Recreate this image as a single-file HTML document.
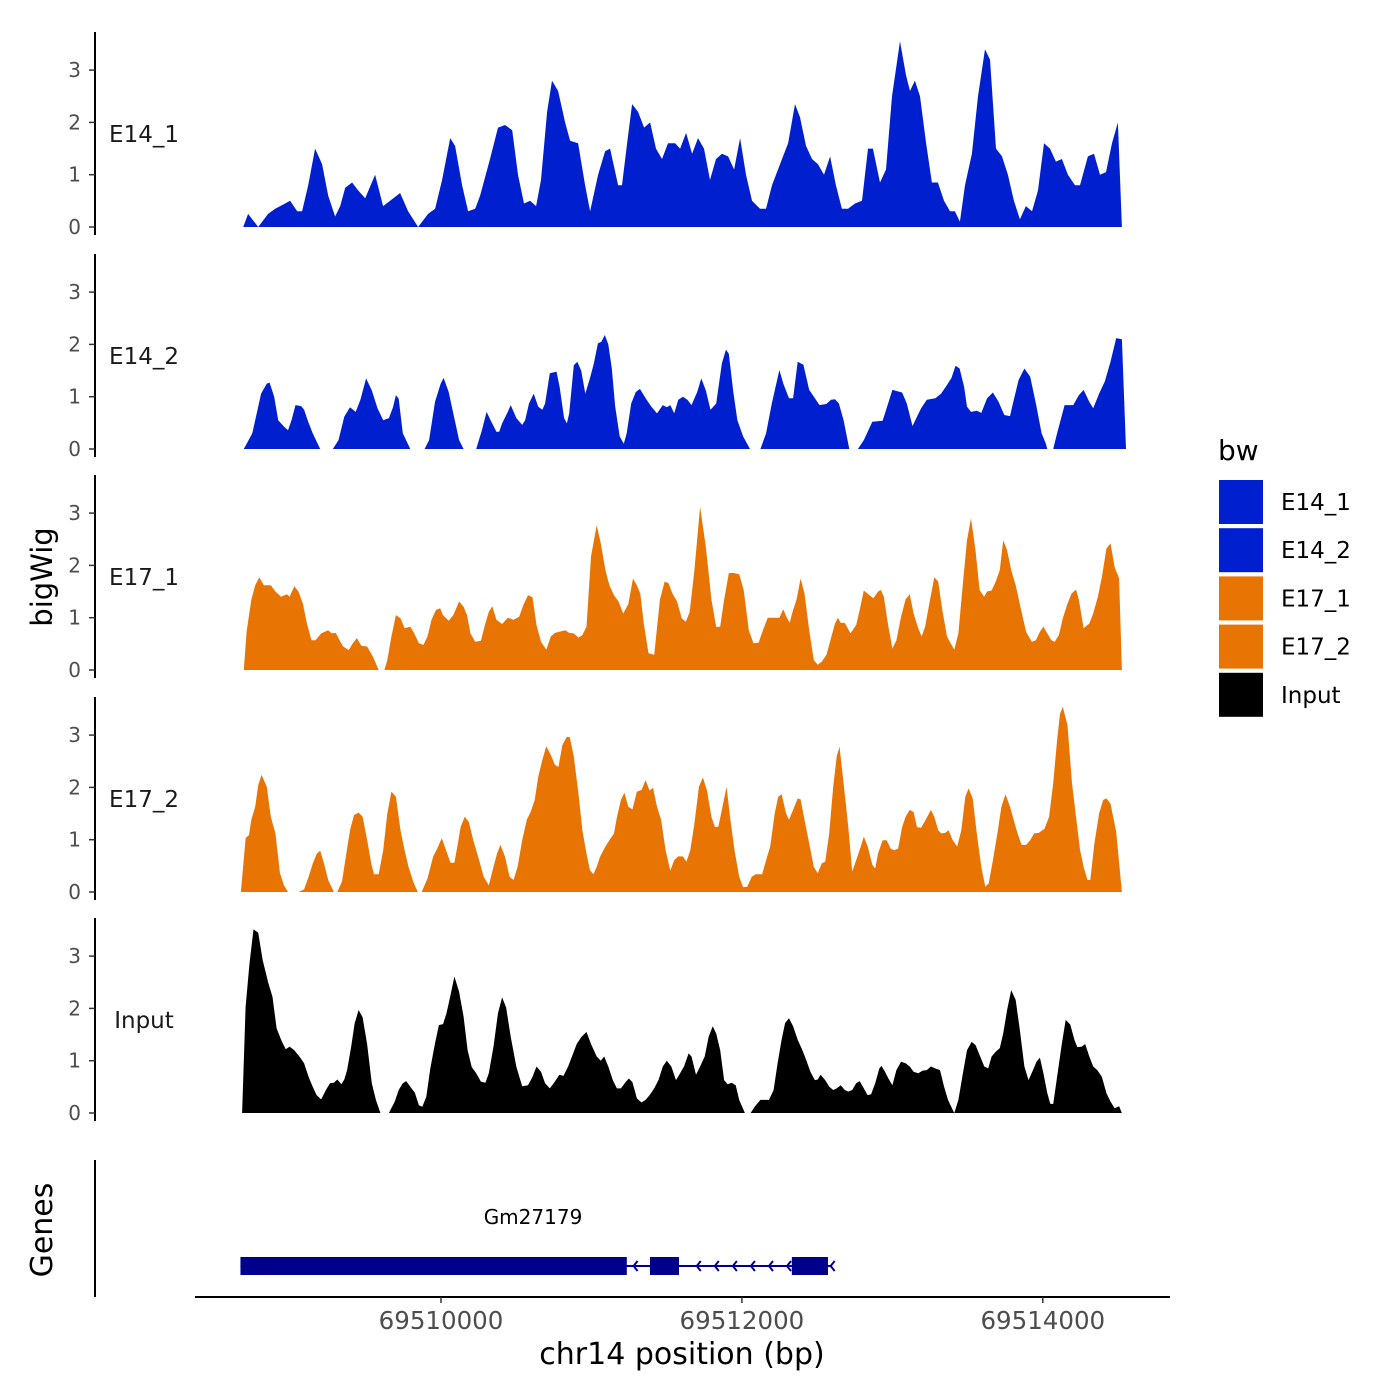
<!DOCTYPE html>
<html><head><meta charset="utf-8">
<style>
html,body{margin:0;padding:0;background:#fff;}
svg{display:block;font-family:"DejaVu Sans","Liberation Sans",sans-serif;}
</style></head>
<body>
<svg id="chart" width="1400" height="1400" viewBox="0 0 1400 1400"></svg>
<script>
const regionStart = 69508685;
const xTicks = [69510000, 69512000, 69514000];
const yTicks = [0, 1, 2, 3];
const trackNames = ["E14_1", "E14_2", "E17_1", "E17_2", "Input"];
const trackColors = ["#0020D0", "#0020D0", "#E87404", "#E87404", "#000000"];

const e14_1Pos = [0,33,100,166,213,279,312,359,392,432,478,525,565,611,645,678,724,764,811,877,930,977,1043,1096,1163,1229,1276,1322,1376,1409,1455,1495,1542,1575,1641,1694,1741,1788,1827,1867,1907,1947,1980,2020,2053,2093,2140,2173,2226,2273,2306,2359,2406,2439,2492,2518,2552,2585,2625,2665,2705,2744,2784,2824,2871,2904,2944,2984,3023,3063,3103,3143,3183,3223,3263,3303,3342,3382,3435,3475,3515,3568,3622,3668,3701,3741,3781,3821,3861,3901,3940,3980,4020,4067,4113,4153,4186,4233,4273,4313,4366,4406,4432,4465,4499,4539,4578,4618,4658,4698,4731,4764,4798,4844,4884,4931,4964,5004,5044,5083,5123,5163,5203,5243,5283,5323,5363,5402,5442,5482,5529,5562,5615,5655,5695,5735,5775,5814,5841];
const e14_1Val = [0,0.25,0,0.25,0.35,0.45,0.5,0.3,0.3,0.8,1.5,1.2,0.6,0.2,0.4,0.75,0.85,0.7,0.55,1.0,0.4,0.5,0.65,0.3,0,0.25,0.35,0.9,1.7,1.55,0.8,0.3,0.35,0.6,1.3,1.9,1.95,1.85,1.0,0.45,0.5,0.4,0.9,2.2,2.8,2.6,2.0,1.65,1.6,0.8,0.3,1.0,1.45,1.5,0.8,0.8,1.6,2.35,2.2,1.9,2.0,1.5,1.3,1.6,1.6,1.5,1.8,1.4,1.7,1.5,0.9,1.3,1.4,1.35,1.1,1.7,1.0,0.5,0.35,0.35,0.8,1.2,1.6,2.35,2.1,1.55,1.3,1.2,1.0,1.35,0.8,0.35,0.35,0.45,0.5,1.5,1.5,0.85,1.1,2.5,3.55,2.9,2.6,2.8,2.5,1.6,0.85,0.85,0.5,0.3,0.3,0.1,0.8,1.4,2.5,3.4,3.2,1.5,1.35,1.0,0.5,0.15,0.4,0.3,0.7,1.6,1.5,1.25,1.3,1.0,0.8,0.8,1.35,1.4,1.0,1.05,1.6,2.0,0];

const e14_2Pos = [4,61,119,157,176,206,233,271,298,321,348,386,405,432,462,512,596,634,672,710,748,779,817,855,893,931,969,996,1015,1034,1061,1111,1206,1236,1275,1313,1332,1366,1397,1435,1465,1549,1587,1618,1645,1683,1702,1721,1759,1778,1816,1855,1874,1900,1931,1961,1988,2007,2038,2083,2103,2133,2152,2167,2198,2221,2247,2274,2305,2331,2358,2381,2404,2427,2450,2473,2503,2530,2549,2579,2610,2637,2675,2713,2751,2789,2816,2839,2865,2892,2923,2953,2980,3018,3045,3075,3106,3144,3182,3209,3228,3258,3285,3323,3369,3438,3476,3514,3564,3590,3628,3655,3686,3724,3762,3800,3831,3876,3907,3934,3960,3991,4029,4086,4125,4182,4250,4277,4315,4380,4411,4449,4506,4544,4601,4639,4677,4708,4735,4762,4792,4811,4838,4876,4906,4945,4983,5021,5059,5097,5116,5154,5193,5231,5269,5307,5334,5345,5384,5410,5460,5517,5555,5586,5624,5650,5689,5727,5765,5803,5841,5868];
const e14_2Val = [0,0.30,1.06,1.25,1.27,1.0,0.55,0.43,0.36,0.55,0.84,0.82,0.75,0.52,0.30,0,0,0.17,0.62,0.80,0.71,0.94,1.35,1.12,0.78,0.55,0.59,0.80,1.03,0.96,0.30,0,0,0.17,0.90,1.25,1.36,1.09,0.68,0.17,0,0,0.36,0.71,0.55,0.33,0.33,0.49,0.71,0.84,0.59,0.46,0.55,0.87,1.06,0.81,0.75,0.87,1.45,1.48,1.19,0.59,0.49,0.68,1.60,1.67,1.5,1.06,1.35,1.64,2.02,2.05,2.18,2.0,1.54,0.81,0.24,0.10,0.30,0.87,1.09,1.15,0.97,0.81,0.68,0.84,0.80,0.84,0.68,0.94,1.0,0.94,0.84,1.09,1.35,1.12,0.75,0.87,1.64,1.90,1.82,1.09,0.55,0.24,0,0,0.30,0.87,1.51,1.25,0.97,0.97,1.67,1.61,1.13,0.97,0.84,0.86,0.94,0.95,0.87,0.55,0,0,0.17,0.52,0.54,0.78,1.13,1.08,0.87,0.44,0.78,0.94,0.97,1.06,1.22,1.36,1.59,1.54,1.19,0.81,0.71,0.73,0.69,0.97,1.08,0.90,0.65,0.63,0.87,1.32,1.54,1.38,0.87,0.30,0.11,0,0,0.30,0.84,0.84,1.03,1.13,0.90,0.78,1.06,1.29,1.67,2.12,2.10,0];

const e17_1Pos = [4,23,54,80,107,138,184,214,252,290,309,340,367,397,424,454,481,519,565,588,615,641,664,702,729,756,786,824,863,901,939,958,985,1015,1046,1073,1111,1137,1168,1198,1225,1252,1282,1309,1328,1366,1397,1435,1465,1488,1511,1542,1580,1607,1633,1656,1683,1721,1759,1797,1835,1862,1893,1923,1950,1980,2015,2045,2072,2102,2141,2167,2198,2228,2255,2282,2312,2350,2377,2408,2434,2465,2495,2526,2560,2591,2617,2640,2663,2694,2732,2770,2801,2827,2854,2884,2915,2942,2968,2999,3037,3075,3113,3144,3171,3197,3228,3251,3297,3327,3361,3392,3426,3457,3487,3514,3564,3590,3609,3632,3655,3678,3705,3731,3762,3793,3819,3846,3877,3903,3934,3953,3972,3999,4037,4075,4098,4125,4163,4189,4220,4239,4258,4289,4315,4342,4373,4403,4430,4456,4487,4510,4533,4563,4594,4620,4647,4678,4708,4727,4754,4784,4811,4838,4868,4895,4925,4945,4975,5002,5029,5052,5078,5105,5135,5166,5204,5242,5269,5296,5319,5345,5372,5395,5422,5448,5479,5506,5536,5555,5586,5624,5650,5681,5708,5738,5765,5792,5822,5841];
const e17_1Val = [0,0.73,1.34,1.62,1.77,1.62,1.62,1.5,1.4,1.45,1.4,1.6,1.5,1.27,0.89,0.57,0.57,0.70,0.76,0.70,0.71,0.57,0.45,0.38,0.51,0.61,0.46,0.45,0.25,0,0,0.19,0.64,1.05,0.99,0.80,0.83,0.70,0.51,0.48,0.64,0.96,1.15,1.18,1.05,0.94,1.05,1.31,1.21,1.05,0.70,0.54,0.56,0.86,1.11,1.22,0.96,0.88,1.0,0.96,1.02,1.24,1.43,1.39,0.86,0.54,0.39,0.64,0.71,0.73,0.76,0.71,0.70,0.62,0.67,0.83,2.17,2.77,2.42,1.91,1.62,1.43,1.31,1.08,1.26,1.75,1.62,1.46,0.89,0.32,0.29,1.34,1.69,1.66,1.46,1.31,0.99,0.92,1.11,1.91,3.12,2.36,1.34,0.82,0.83,1.34,1.85,1.86,1.83,1.53,0.76,0.51,0.52,0.78,1.0,1.0,1.0,1.16,1.03,0.90,1.15,1.34,1.75,1.46,0.76,0.19,0.1,0.16,0.29,0.57,0.89,1.0,0.90,0.90,0.70,0.86,1.15,1.52,1.43,1.37,1.50,1.53,1.40,0.83,0.41,0.57,1.02,1.35,1.45,1.08,0.80,0.64,0.83,1.31,1.77,1.69,1.15,0.64,0.48,0.39,0.70,1.66,2.48,2.90,2.29,1.53,1.40,1.50,1.52,1.69,1.91,2.48,2.29,1.91,1.62,1.21,0.73,0.54,0.57,0.73,0.83,0.70,0.57,0.54,0.67,0.99,1.27,1.46,1.54,1.34,0.80,0.89,1.08,1.40,1.78,2.32,2.42,1.97,1.75,0];

const e17_2Pos = [-15,16,39,54,80,100,122,157,184,214,245,271,298,367,405,435,462,489,512,538,565,603,626,657,683,710,737,767,794,824,851,870,901,931,958,985,1015,1046,1073,1099,1130,1160,1187,1225,1263,1290,1320,1351,1378,1404,1427,1446,1473,1500,1530,1568,1599,1633,1664,1687,1710,1740,1771,1797,1824,1855,1885,1912,1938,1961,1988,2015,2045,2072,2095,2122,2152,2171,2198,2228,2255,2282,2305,2328,2350,2373,2408,2434,2465,2484,2511,2534,2560,2587,2617,2648,2675,2701,2724,2751,2778,2808,2839,2865,2892,2923,2946,2972,2999,3029,3056,3083,3113,3136,3159,3190,3213,3236,3266,3297,3323,3350,3381,3407,3449,3476,3503,3533,3556,3579,3609,3628,3655,3686,3705,3731,3762,3793,3819,3846,3869,3895,3922,3945,3964,3991,4022,4048,4075,4105,4125,4151,4182,4201,4220,4250,4277,4304,4327,4353,4380,4403,4430,4456,4479,4506,4537,4571,4594,4620,4640,4666,4689,4716,4746,4773,4800,4822,4849,4876,4906,4933,4956,4983,5013,5040,5067,5097,5128,5147,5174,5204,5231,5258,5288,5326,5357,5384,5410,5429,5448,5479,5509,5536,5563,5586,5612,5631,5658,5689,5716,5738,5765,5803,5841];
const e17_2Val = [0,1.03,1.09,1.38,1.63,2.04,2.24,2.01,1.44,1.12,0.36,0.13,0,0,0.05,0.29,0.54,0.73,0.79,0.54,0.23,0,0,0.20,0.68,1.18,1.47,1.52,1.44,1.0,0.55,0.34,0.34,0.80,1.50,1.92,1.82,1.18,0.80,0.48,0.20,0,0,0.26,0.68,0.83,1.03,0.78,0.56,0.56,0.93,1.25,1.44,1.34,0.99,0.61,0.29,0.13,0.48,0.73,0.90,0.68,0.29,0.23,0.48,0.99,1.38,1.54,1.76,2.20,2.52,2.79,2.62,2.43,2.39,2.81,2.97,2.96,2.59,1.89,1.18,0.73,0.42,0.34,0.48,0.68,0.87,0.99,1.12,1.43,1.76,1.90,1.63,1.58,1.92,1.95,2.14,1.94,1.99,1.63,1.38,0.80,0.41,0.61,0.68,0.68,0.58,0.80,1.31,2.01,2.19,1.94,1.43,1.24,1.25,1.69,2.01,1.44,0.80,0.29,0.09,0.10,0.29,0.34,0.34,0.61,0.87,1.50,1.82,1.87,1.50,1.38,1.57,1.79,1.77,1.38,0.93,0.48,0.36,0.55,0.58,1.12,2.01,2.59,2.78,2.08,1.24,0.39,0.61,0.87,1.06,0.87,0.52,0.45,0.74,0.99,0.99,0.83,0.80,0.83,1.24,1.44,1.57,1.53,1.24,1.23,1.38,1.57,1.44,1.18,1.12,1.13,1.18,0.99,0.87,1.18,1.82,1.98,1.79,1.12,0.48,0.10,0.17,0.61,1.12,1.63,1.87,1.63,1.31,1.12,0.90,0.90,0.99,1.12,1.13,1.21,1.44,2.08,2.90,3.41,3.54,3.19,2.08,1.44,0.80,0.48,0.23,0.23,0.93,1.50,1.76,1.79,1.69,1.15,0];

const inputPos = [-7,16,42,69,100,130,168,195,222,252,283,309,340,374,405,435,462,489,519,550,577,603,626,653,672,691,718,741,767,794,824,855,882,912,969,1008,1034,1061,1084,1111,1141,1168,1191,1217,1244,1275,1301,1328,1351,1378,1404,1435,1465,1492,1519,1549,1580,1610,1633,1664,1694,1721,1748,1778,1816,1855,1893,1923,1950,1980,2007,2038,2064,2102,2129,2160,2190,2217,2247,2282,2312,2350,2377,2400,2427,2457,2484,2511,2541,2564,2587,2617,2648,2675,2701,2732,2762,2789,2816,2846,2877,2904,2930,2961,2980,3010,3037,3068,3094,3121,3144,3171,3197,3220,3247,3274,3297,3335,3373,3400,3438,3495,3526,3552,3579,3602,3628,3655,3686,3716,3743,3770,3800,3819,3838,3869,3896,3922,3945,3972,3999,4022,4048,4075,4098,4125,4151,4174,4201,4228,4243,4266,4289,4315,4342,4373,4403,4430,4456,4487,4517,4544,4571,4601,4632,4659,4685,4716,4727,4754,4784,4811,4842,4868,4899,4926,4952,4975,5002,5029,5052,5078,5105,5135,5162,5193,5220,5250,5273,5296,5319,5345,5364,5384,5410,5441,5467,5498,5525,5544,5574,5597,5624,5650,5677,5708,5738,5765,5792,5822,5841];
const inputVal = [0,2.03,2.86,3.51,3.45,2.92,2.48,2.22,1.62,1.40,1.22,1.27,1.20,1.08,0.95,0.69,0.50,0.34,0.26,0.44,0.57,0.58,0.64,0.55,0.64,0.82,1.27,1.71,1.97,1.83,1.32,0.57,0.25,0,0,0.22,0.44,0.57,0.61,0.50,0.39,0.15,0.12,0.31,0.85,1.33,1.68,1.70,1.90,2.25,2.61,2.32,1.84,1.20,0.88,0.76,0.60,0.58,0.76,1.27,1.91,2.21,2.02,1.46,0.88,0.51,0.53,0.69,0.89,0.79,0.57,0.47,0.57,0.73,0.71,0.89,1.11,1.32,1.45,1.55,1.32,1.08,1.00,1.08,0.89,0.63,0.47,0.47,0.59,0.66,0.59,0.28,0.20,0.25,0.34,0.47,0.64,0.89,1.0,0.89,0.63,0.76,0.89,1.14,1.08,0.73,0.89,1.08,1.46,1.66,1.52,1.20,0.63,0.55,0.58,0.53,0.25,0,0,0.12,0.25,0.25,0.44,0.95,1.40,1.72,1.81,1.66,1.40,1.21,1.01,0.79,0.63,0.64,0.73,0.63,0.50,0.44,0.47,0.53,0.44,0.41,0.44,0.57,0.61,0.47,0.34,0.36,0.57,0.85,0.90,0.79,0.66,0.53,0.82,0.98,0.95,0.89,0.79,0.76,0.81,0.82,0.89,0.85,0.82,0.50,0.25,0.06,0,0.25,0.76,1.20,1.36,1.30,1.08,0.89,0.85,1.08,1.17,1.24,1.52,1.97,2.35,2.16,1.59,0.89,0.63,0.82,0.98,1.06,0.76,0.38,0.18,0.17,0.69,1.32,1.78,1.69,1.40,1.26,1.27,1.32,1.08,0.89,0.82,0.69,0.38,0.22,0.09,0.13,0];

const genePos = [69508667, 69512598];
const geneExonStarts = [69508667, 69511389, 69512332];
const geneExonEnds = [69511235, 69511582, 69512572];
const geneName = "Gm27179";

const svg = document.getElementById('chart');
const NS = 'http://www.w3.org/2000/svg';
function mk(tag, attrs, parent) {
  const e = document.createElementNS(NS, tag);
  for (const k in attrs) e.setAttribute(k, attrs[k]);
  (parent || svg).appendChild(e);
  return e;
}
function xScale(bp) { return 441 + (bp - 69510000) * 0.15045; }
const panelBase = [227, 449, 670, 892, 1113];
const unitPx = 52.3;
function yScale(v, i) { return panelBase[i] - v * unitPx; }

const allPos = [e14_1Pos, e14_2Pos, e17_1Pos, e17_2Pos, inputPos];
const allVal = [e14_1Val, e14_2Val, e17_1Val, e17_2Val, inputVal];

for (let i = 0; i < 5; i++) {
  const g = mk('g', {});
  
  
  const pos = allPos[i], val = allVal[i];
  let d = 'M' + xScale(regionStart + pos[0]).toFixed(1) + ',' + yScale(0, i);
  for (let k = 0; k < pos.length; k++) {
    d += ' L' + xScale(regionStart + pos[k]).toFixed(1) + ',' + yScale(val[k], i).toFixed(1);
  }
  d += ' L' + xScale(regionStart + pos[pos.length - 1]).toFixed(1) + ',' + yScale(0, i) + ' Z';
  const area = mk('path', { d: d, fill: trackColors[i], stroke: 'none' }, g);
  
  
  const ax = mk('line', { x1: 95, x2: 95, y1: panelBase[i] - 195, y2: panelBase[i] + 8, stroke: '#000', 'stroke-width': 2 }, g);
  
  
  for (const t of yTicks) {
    const y = yScale(t, i);
    const tk = mk('line', { x1: 89, x2: 95, y1: y, y2: y, stroke: '#333', 'stroke-width': 1.5 }, g);
    
    
    const tl = mk('text', { x: 81, y: y + 7, 'text-anchor': 'end', 'font-size': 20, fill: '#4d4d4d' }, g);
    tl.textContent = t;
    
    
  }
  const lab = mk('text', { x: 144, y: panelBase[i] - 85, 'text-anchor': 'middle', 'font-size': 23, fill: '#1a1a1a' }, g);
  lab.textContent = trackNames[i];
  
  
}

const yt = mk('text', { x: 0, y: 0, transform: 'translate(52,577) rotate(-90)', 'text-anchor': 'middle', 'font-size': 29, fill: '#000' });
yt.textContent = 'bigWig';



const gg = mk('g', {});


const gax = mk('line', { x1: 95, x2: 95, y1: 1160, y2: 1297, stroke: '#000', 'stroke-width': 2 }, gg);


const gt = mk('text', { x: 0, y: 0, transform: 'translate(52,1230) rotate(-90)', 'text-anchor': 'middle', 'font-size': 30, fill: '#000' }, gg);
gt.textContent = 'Genes';


const gl = mk('line', { x1: xScale(genePos[0]), x2: xScale(genePos[1]), y1: 1266, y2: 1266, stroke: '#00008B', 'stroke-width': 2 }, gg);


for (let k = 0; k < geneExonStarts.length; k++) {
  const r = mk('rect', { x: xScale(geneExonStarts[k]), y: 1257, width: xScale(geneExonEnds[k]) - xScale(geneExonStarts[k]), height: 18, fill: '#00008B' }, gg);
  
  
}
const arrowBp = [69511280, 69511700, 69511820, 69511940, 69512060, 69512180, 69512300, 69512590];
for (const a of arrowBp) {
  const x = xScale(a);
  const ar = mk('path', { d: 'M' + (x + 4) + ',1261 L' + x + ',1266 L' + (x + 4) + ',1271', fill: 'none', stroke: '#00008B', 'stroke-width': 2 }, gg);
  
  
}
const gn = mk('text', { x: 533, y: 1224, 'text-anchor': 'middle', 'font-size': 20, fill: '#000' }, gg);
gn.textContent = geneName;



const xa = mk('line', { x1: 195, x2: 1170, y1: 1297, y2: 1297, stroke: '#000', 'stroke-width': 2 });


for (const t of xTicks) {
  const x = xScale(t);
  const tk = mk('line', { x1: x, x2: x, y1: 1297, y2: 1303, stroke: '#333', 'stroke-width': 1.5 });
  
  
  const tl = mk('text', { x: x, y: 1329, 'text-anchor': 'middle', 'font-size': 24.5, fill: '#4d4d4d' });
  tl.textContent = t;
  
  
}
const xt = mk('text', { x: 682, y: 1364, 'text-anchor': 'middle', 'font-size': 30, fill: '#000' });
xt.textContent = 'chr14 position (bp)';



const lg = mk('g', {});


const lt = mk('text', { x: 1218, y: 460, 'font-size': 28, fill: '#000' }, lg);
lt.textContent = 'bw';


for (let i = 0; i < 5; i++) {
  const y = 480 + i * 48.2;
  const r = mk('rect', { x: 1219, y: y, width: 44, height: 44, fill: trackColors[i] }, lg);
  
  
  const t = mk('text', { x: 1281, y: y + 30, 'font-size': 23, fill: '#000' }, lg);
  t.textContent = trackNames[i];
  
  
}
</script>
</body></html>
